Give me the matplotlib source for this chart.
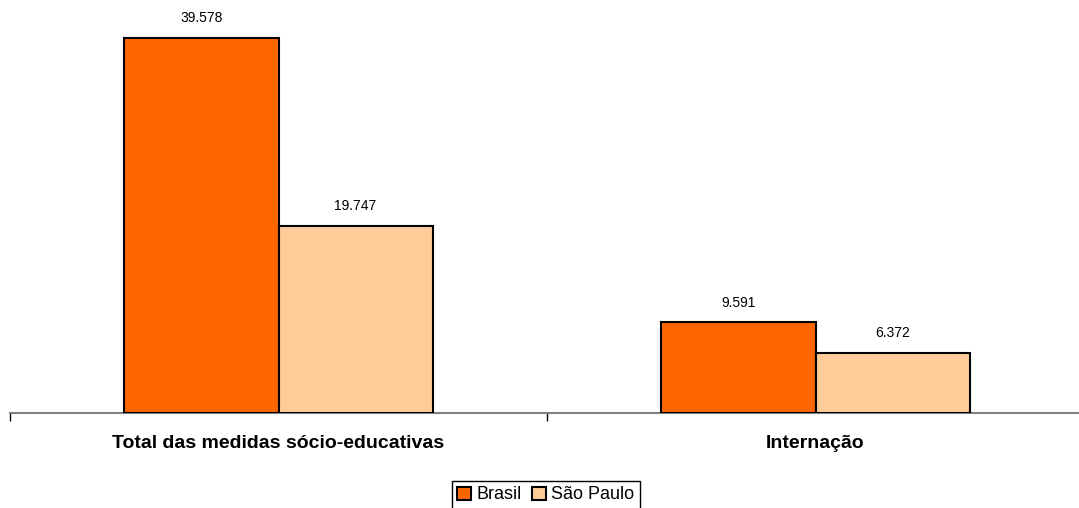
import numpy as np
import matplotlib.pyplot as plt

plt.rcParams['font.family'] = ['Liberation Sans', 'DejaVu Sans']

# Data
categories = ['Total das medidas sócio-educativas', 'Internação']
series_names = ['Brasil', 'São Paulo']
brasil = [39578, 9591]
sao_paulo = [19747, 6372]
colors = ['#FF6600', '#FFCC99']

def fmt(v):
    return f'{v:,}'.replace(',', '.')

fig = plt.figure(figsize=(10.79, 5.08), dpi=100)
ax = fig.add_axes([10 / 1079, 95 / 508, 1074 / 1079, 413 / 508])

x = np.arange(len(categories)) + 0.5
w = 0.2868

for i, (vals, name) in enumerate(zip([brasil, sao_paulo], series_names)):
    pos = x - w / 2 + i * w
    bars = ax.bar(pos, vals, width=w, color=colors[i], edgecolor='black',
                  linewidth=1.5, label=name, zorder=3)
    for b, v in zip(bars, vals):
        ax.annotate(fmt(v), (b.get_x() + b.get_width() / 2, v),
                    xytext=(0, 9), textcoords='offset points',
                    ha='center', va='bottom', fontsize=10)

ax.set_xlim(0, len(categories))
ax.set_ylim(0, 39578 * 413 / 375)

for s in ['top', 'right', 'left']:
    ax.spines[s].set_visible(False)
ax.spines['bottom'].set_color('#808080')
ax.spines['bottom'].set_linewidth(1.5)
ax.set_yticks([])

ax.set_xticks([0, 1])
ax.set_xticklabels(['', ''])
ax.tick_params(axis='x', which='major', length=6, width=1, color='black', direction='out')
ax.set_xticks(x, minor=True)
ax.set_xticklabels(categories, minor=True, fontsize=14, fontweight='bold')
ax.tick_params(axis='x', which='minor', length=0, pad=15.5)

fig.legend(loc='upper center', bbox_to_anchor=(546 / 1079, 1 - 481 / 508),
           ncol=2, fontsize=13, frameon=True, fancybox=False,
           edgecolor='black', framealpha=1, handlelength=0.75,
           handleheight=0.75, handletextpad=0.3, columnspacing=0.6,
           borderpad=0.3, borderaxespad=0)

fig.savefig('out.png', dpi=100)
